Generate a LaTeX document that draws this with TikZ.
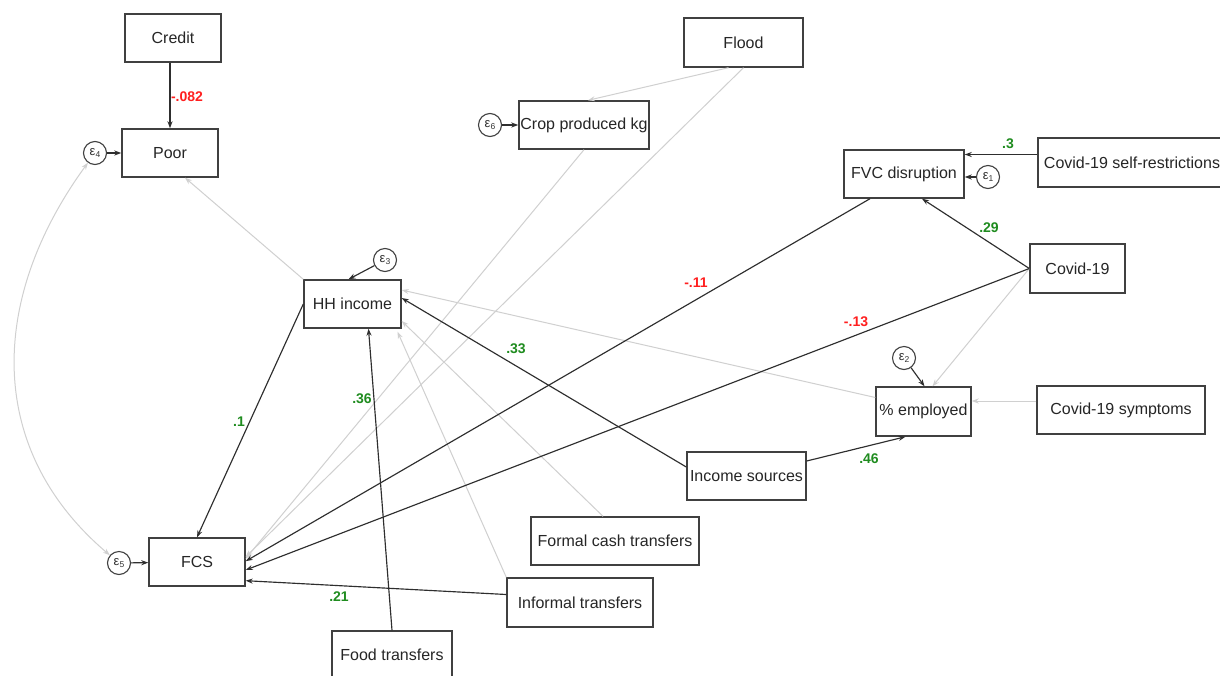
\documentclass[tikz,border=0pt]{standalone}
\usepackage{fontspec}
\setmainfont{Liberation Sans}
\usetikzlibrary{arrows.meta,calc}
\definecolor{lgray}{HTML}{D0D0D0}
\definecolor{dline}{HTML}{2E2E2E}
\definecolor{bline}{HTML}{404040}
\definecolor{nred}{HTML}{FF1F1F}
\definecolor{ngreen}{HTML}{1F8C1F}
\begin{document}
\begin{tikzpicture}[x=1pt,y=-1pt,
 var/.style={draw=bline, line width=1.4pt, minimum height=48pt, inner sep=0pt, fill=white, text=black!85, font=\fontsize{16}{18}\selectfont},
 err/.style={circle, draw=bline, line width=1.1pt, minimum size=23pt, inner sep=0pt, fill=white, text=black!80, font=\fontsize{13}{14}\selectfont},
 tip/.style={-{Stealth[length=7pt,width=5pt]}},
 blk/.style={draw=dline, line width=1.15pt, tip},
 gry/.style={draw=lgray, line width=1pt, tip},
 gry2/.style={draw=lgray, line width=1pt, {Stealth[length=7pt,width=5pt]}-{Stealth[length=7pt,width=5pt]}},
 coefp/.style={font=\bfseries\fontsize{14}{16}\selectfont, text=ngreen},
 coefn/.style={font=\bfseries\fontsize{14}{16}\selectfont, text=nred}]
\useasboundingbox (0,0) rectangle (1220,675);
\clip (0,0) rectangle (1220,675);
\fill[white] (0,0) rectangle (1220,675);

% observed variables
\node[var, minimum width=96pt] (credit) at (173,38) {Credit};
\node[var, minimum width=96pt] (poor) at (170,153) {Poor};
\node[var, minimum width=119pt, minimum height=49pt] (flood) at (743.5,42.5) {Flood};
\node[var, minimum width=130pt] (crop) at (584,125) {Crop produced kg};
\node[var, minimum width=120pt] (fvc) at (904,174) {FVC disruption};
\node[var, minimum width=188pt, minimum height=49pt] (selfr) at (1132,162.5) {Covid-19 self-restrictions};
\node[var, minimum width=95pt, minimum height=49pt] (covid) at (1077.5,268.5) {Covid-19};
\node[var, minimum width=97pt] (hh) at (352.5,304) {HH income};
\node[var, minimum width=95pt, minimum height=49pt] (emp) at (923.5,411.5) {\% employed};
\node[var, minimum width=168pt] (symp) at (1121,410) {Covid-19 symptoms};
\node[var, minimum width=119pt] (inc) at (746.5,476) {Income sources};
\node[var, minimum width=168pt] (formal) at (615,541) {Formal cash transfers};
\node[var, minimum width=146pt, minimum height=49pt] (informal) at (580,602.5) {Informal transfers};
\node[var, minimum width=96pt] (fcs) at (197,562) {FCS};
\node[var, minimum width=120pt] (food) at (392,655) {Food transfers};

% error terms
\node[err] (e4) at (95,153) {ε\raisebox{-1.5pt}{\fontsize{8.5}{9}\selectfont 4}};
\node[err] (e6) at (490,125) {ε\raisebox{-1.5pt}{\fontsize{8.5}{9}\selectfont 6}};
\node[err] (e1) at (988,177) {ε\raisebox{-1.5pt}{\fontsize{8.5}{9}\selectfont 1}};
\node[err] (e3) at (385,260) {ε\raisebox{-1.5pt}{\fontsize{8.5}{9}\selectfont 3}};
\node[err] (e2) at (904,358) {ε\raisebox{-1.5pt}{\fontsize{8.5}{9}\selectfont 2}};
\node[err] (e5) at (119,563) {ε\raisebox{-1.5pt}{\fontsize{8.5}{9}\selectfont 5}};

% grey (non-significant) paths
\draw[gry2] (e4) .. controls (-12,300) and (-14,450) .. (e5);
\draw[gry] ([xshift=-15pt]flood.south) -- ([xshift=4pt]crop.north);
\draw[gry] (flood.south) -- (fcs.6);
\draw[gry] (crop.south) -- (fcs.4);
\draw[gry] (covid.west) -- ([xshift=9pt]emp.north);
\draw[gry] ([yshift=9pt]symp.west) -- ([yshift=9pt]symp.west -| emp.east);
\draw[gry] ([yshift=14pt]emp.west) -- ([yshift=14pt]hh.east);
\draw[gry] ([xshift=-12pt]formal.north) -- ([yshift=-17pt]hh.east);
\draw[gry] (informal.north west) -- ([xshift=45pt,yshift=-3pt]hh.south);
\draw[gry] (hh.north west) -- ([xshift=15pt]poor.south);

% black (significant) paths
\draw[blk] (credit.south -| poor.north) -- (poor.north);
\draw[blk] (e4) -- (poor);
\draw[blk] (e5) -- (fcs);
\draw[blk] (e6) -- (crop);
\draw[blk] (e1) -- (e1 -| fvc.east);
\draw[blk] (e3) -- ([xshift=-4pt]hh.north);
\draw[blk] ([yshift=8pt]selfr.west) -- ([yshift=8pt]selfr.west -| fvc.east);
\draw[blk] (covid.west) -- ([xshift=18pt]fvc.south);
\draw[blk] ([xshift=-34pt]fvc.south) -- (fcs.1);
\draw[blk] (covid.west) -- ([yshift=-8pt]fcs.east);
\draw[blk] (e2) -- ([xshift=1pt]emp.north);
\draw[blk] ([yshift=9pt]inc.west) -- ([yshift=6pt]hh.east);
\draw[blk] ([yshift=15pt]inc.east) -- ([xshift=-18pt]emp.south);
\draw[blk] (food.north) -- ([xshift=16pt]hh.south);
\draw[blk] ([yshift=8pt]informal.west) -- (fcs.-21);
\draw[blk] (hh.west) -- (fcs.north);

% coefficients
\node[coefn] (l1) at (187,97) {-.082};
\node[coefp] (l2) at (1008,144) {.3};
\node[coefp] (l3) at (989,228) {.29};
\node[coefn] (l4) at (696,283) {-.11};
\node[coefn] (l5) at (856,322) {-.13};
\node[coefp] (l6) at (516,349) {.33};
\node[coefp] (l7) at (362,399) {.36};
\node[coefp] (l8) at (239,422) {.1};
\node[coefp] (l9) at (869,459) {.46};
\node[coefp] (l10) at (339,597) {.21};
\end{tikzpicture}
\end{document}
